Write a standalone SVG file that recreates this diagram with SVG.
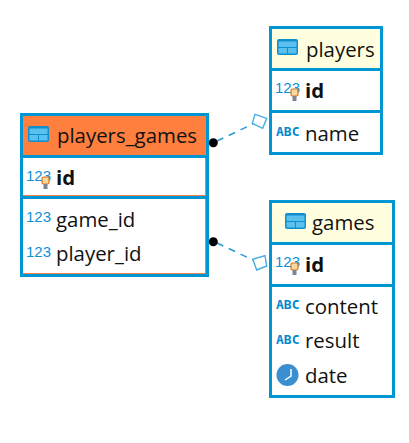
<svg xmlns="http://www.w3.org/2000/svg" width="409" height="443" viewBox="0 0 409 443">
<style>
.box{fill:#fff;stroke:#0095d3;stroke-width:3}
.div{stroke:#0095d3;stroke-width:3;fill:none}
.head{fill:#ffffe0}
.t{font-family:"Open Sans","Noto Sans",sans-serif;font-size:20.4px;fill:#111}
.b{font-weight:700}
.n{font-family:"Liberation Sans",sans-serif;font-size:15px;fill:#0f8fd6}
.a{font-family:"DejaVu Sans Mono",monospace;font-size:13px;font-weight:700;fill:#0088cc}
.conn{stroke:#2a9bd4;stroke-width:1.5;stroke-dasharray:7 6;fill:none}
.dia{fill:#fff;stroke:#45ade0;stroke-width:1.4}
.edge{fill:none;stroke:#f08050;stroke-width:1}
</style>
<defs>
<g id="tbl"><rect x="0" y="0" width="21" height="16" rx="2" fill="#0f8ed0"/><rect x="1.500" y="2.500" width="18" height="5.500" fill="#5cc0ee"/><rect x="1.500" y="9" width="8.500" height="5.500" fill="#5cc0ee"/><rect x="11" y="9" width="8.500" height="5.500" fill="#5cc0ee"/></g>
<g id="key"><rect x="0" y="0" width="7" height="7" rx="1.500" fill="#f8d8a0" stroke="#d8741c" stroke-width="1.200"/><rect x="1.500" y="7" width="4" height="5" fill="#7a8694"/></g>
</defs>
<g id="connectors">
<path class="conn" d="M217 141L253 124"/>
<path class="conn" d="M217 243L253 260"/>
<circle cx="213.300" cy="142.700" r="4.500" fill="#000"/>
<circle cx="213.300" cy="241.700" r="4.500" fill="#000"/>
<path class="dia" d="M255 114.300L266.700 118.300L262.700 128.300L252.300 123.300Z"/>
<path class="dia" d="M265 255.700L266.700 266L256.700 270L252.700 259.300Z"/>
</g>
<g id="players_games">
<rect class="box" x="21.500" y="114.500" width="186" height="161"/>
<rect x="23" y="116" width="183" height="39" fill="#ff7f3f"/>
<path class="edge" d="M205.500 158V196M205.500 199V274M23 195.500H206M23 273.500H206"/>
<path class="div" d="M21.500 156.500H207.500M21.500 197.500H207.500"/>
<use href="#tbl" x="28" y="126"/>
<text class="t" x="57" y="143">players_games</text>
<text class="n" x="26" y="181">123</text><use href="#key" x="42" y="177"/>
<text class="t b" x="56" y="185">id</text>
<text class="n" x="26" y="222">123</text>
<text class="t" x="56" y="227">game_id</text>
<text class="n" x="26" y="257">123</text>
<text class="t" x="56" y="261">player_id</text>
</g>
<g id="players">
<rect class="box" x="270.500" y="27.500" width="111" height="126"/>
<rect class="head" x="272" y="29" width="108" height="39"/>
<path class="div" d="M270.500 69.500H381.500M270.500 111.500H381.500"/>
<use href="#tbl" x="277" y="39"/>
<text class="t" x="306" y="57">players</text>
<text class="n" x="275" y="93">123</text><use href="#key" x="291" y="89"/>
<text class="t b" x="305" y="98">id</text>
<text class="a" x="276" y="136">ABC</text>
<text class="t" x="305" y="141">name</text>
</g>
<g id="games">
<rect class="box" x="270.500" y="201.500" width="123" height="195"/>
<rect class="head" x="272" y="203" width="120" height="39"/>
<path class="div" d="M270.500 243.500H393.500M270.500 285.500H393.500"/>
<use href="#tbl" x="285" y="213"/>
<text class="t" x="312" y="230">games</text>
<text class="n" x="275" y="267">123</text><use href="#key" x="291" y="263"/>
<text class="t b" x="305" y="272">id</text>
<text class="a" x="276" y="309">ABC</text>
<text class="t" x="305" y="314">content</text>
<text class="a" x="276" y="344">ABC</text>
<text class="t" x="305" y="348">result</text>
<circle cx="287.500" cy="375" r="11" fill="#3a8fd0"/><path d="M285 380L291 376V369" stroke="#fff" stroke-width="1.500" fill="none"/>
<text class="t" x="305" y="383">date</text>
</g>
</svg>
